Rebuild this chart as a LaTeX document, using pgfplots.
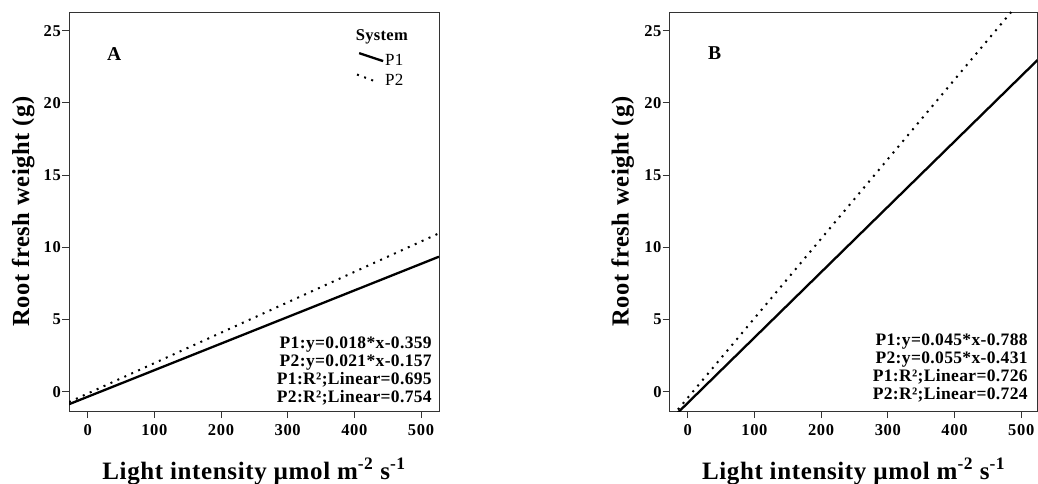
\documentclass[border=0pt]{standalone}
\usepackage{fontspec}
\setmainfont{Liberation Serif}
\newfontfamily\labfont[LetterSpace=2.5]{Liberation Serif}
\newfontfamily\tickfont[LetterSpace=4]{Liberation Serif}
\newfontfamily\eqfont[LetterSpace=2]{Liberation Serif}
\usepackage{pgfplots}
\pgfplotsset{compat=1.18}
\tikzset{
  solidline/.style={line width=2.3pt, line cap=butt},
  dotline/.style={line width=2pt, dash pattern=on 2pt off 5.6pt},
}
\pgfplotsset{
  panel/.style={
    scale only axis,
    height=399pt,
    ymin=-1.34, ymax=26.3,
    axis line style={black!80, line width=0.9pt},
    tick style={black!80, line width=0.9pt},
    tick align=outside,
    major tick length=7pt,
    xtick pos=left, ytick pos=left,
    xtick={0,100,200,300,400,500},
    ytick={0,5,10,15,20,25},
    minor tick num=0,
    /pgf/number format/assume math mode=true,
    ticklabel style={font=\fontsize{16.5}{18}\selectfont\tickfont\bfseries},
    yticklabel style={inner sep=0pt, anchor=east, xshift=-1pt},
    xticklabel style={inner sep=0pt, anchor=north, yshift=-6pt},
    xlabel={Light intensity \textmu mol m\textsuperscript{-2} s\textsuperscript{-1}},
    ylabel={Root fresh weight (g)},
    xlabel style={font=\fontsize{25}{28}\selectfont\labfont\bfseries, at={(axis description cs:0.5,0)}, anchor=base, yshift=-68pt, inner sep=0pt},
    ylabel style={font=\fontsize{24.5}{28}\selectfont\labfont\bfseries, anchor=base, inner sep=0pt},
    every axis plot/.append style={black},
  },
}
\pgfplotstableread{
x y
-28 -0.87
527 9.35
}\Aone
\pgfplotstableread{
x y
-28 -0.72
527 10.97
}\Atwo
\pgfplotstableread{
x y
-20 -1.69
524.4 22.97
}\Bone
\pgfplotstableread{
x y
-22 -1.64
485 26.3
}\Btwo
\begin{document}
\begin{tikzpicture}
\useasboundingbox (0,0) rectangle (1038pt,483pt);
% Panel A
\begin{axis}[panel, at={(69pt,72pt)}, anchor=south west, width=370pt,
  xmin=-28, xmax=527,
  ylabel style={at={(axis description cs:-0.108,0.5)}}]
\addplot[solidline] table {\Aone};
\addplot[dotline] table {\Atwo};
\node[anchor=base west, inner sep=0pt, font=\fontsize{19.6}{22}\selectfont\bfseries] at (axis cs:29,22.97) {A};
\node[anchor=base, inner sep=0pt, font=\fontsize{16.5}{18}\selectfont\eqfont\bfseries] at (axis cs:441.3,24.31) {System};
\draw[solidline] (axis cs:407.2,23.45) -- (axis cs:443.2,22.9);
\node[anchor=base west, inner sep=0pt, font=\fontsize{17}{18}\selectfont\eqfont] at (axis cs:446,22.58) {P1};
\draw[dotline] (axis cs:404,21.97) -- (axis cs:434,21.45);
\node[anchor=base west, inner sep=0pt, font=\fontsize{17}{18}\selectfont\eqfont] at (axis cs:446,21.19) {P2};
\node[anchor=base east, inner sep=0pt, font=\fontsize{17.5}{18}\selectfont\eqfont\bfseries] at (axis cs:516.4,3.0) {P1:y=0.018*x-0.359};
\node[anchor=base east, inner sep=0pt, font=\fontsize{17.5}{18}\selectfont\eqfont\bfseries] at (axis cs:516.4,1.75) {P2:y=0.021*x-0.157};
\node[anchor=base east, inner sep=0pt, font=\fontsize{17.5}{18}\selectfont\eqfont\bfseries] at (axis cs:516.4,0.51) {P1:R²;Linear=0.695};
\node[anchor=base east, inner sep=0pt, font=\fontsize{17.5}{18}\selectfont\eqfont\bfseries] at (axis cs:516.4,-0.74) {P2:R²;Linear=0.754};
\end{axis}
% Panel B
\begin{axis}[panel, at={(669.7pt,72pt)}, anchor=south west, width=367.8pt,
  xmin=-27, xmax=524.4,
  ylabel style={at={(axis description cs:-0.1115,0.5)}}]
\addplot[solidline] table {\Bone};
\addplot[dotline] table {\Btwo};
\node[anchor=base west, inner sep=0pt, font=\fontsize{19.6}{22}\selectfont\bfseries] at (axis cs:30.4,23.0) {B};
\node[anchor=base east, inner sep=0pt, font=\fontsize{17.5}{18}\selectfont\eqfont\bfseries] at (axis cs:509.9,3.21) {P1:y=0.045*x-0.788};
\node[anchor=base east, inner sep=0pt, font=\fontsize{17.5}{18}\selectfont\eqfont\bfseries] at (axis cs:509.9,1.98) {P2:y=0.055*x-0.431};
\node[anchor=base east, inner sep=0pt, font=\fontsize{17.5}{18}\selectfont\eqfont\bfseries] at (axis cs:509.9,0.71) {P1:R²;Linear=0.726};
\node[anchor=base east, inner sep=0pt, font=\fontsize{17.5}{18}\selectfont\eqfont\bfseries] at (axis cs:509.9,-0.53) {P2:R²;Linear=0.724};
\end{axis}
\end{tikzpicture}
\end{document}
